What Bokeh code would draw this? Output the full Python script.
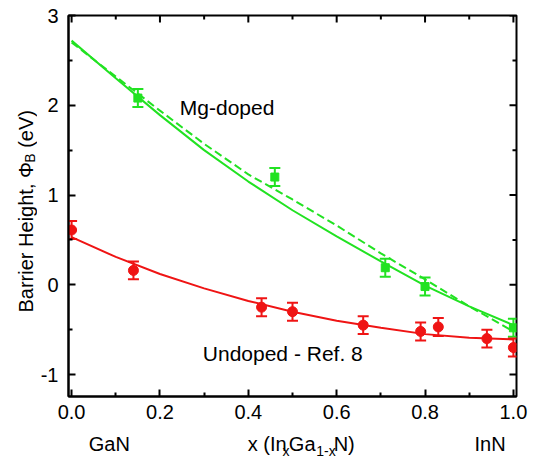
import math
from bokeh.plotting import figure
from bokeh.layouts import row, column
from bokeh.models import (Range1d, FixedTicker, NumeralTickFormatter,
                          Label, Whisker, TeeHead, ColumnDataSource)
from bokeh.embed import file_html
from bokeh.resources import INLINE

# ---- tick values / labels ----
x_ticks = [0.0, 0.2, 0.4, 0.6, 0.8, 1.0]
x_minor = [0.1, 0.3, 0.5, 0.7, 0.9]
y_ticks = [-1, 0, 1, 2, 3]
y_minor = [-0.5, 0.5, 1.5, 2.5]

# ---- data: Mg-doped (green squares) ----
mg_x = [0.15, 0.46, 0.71, 0.80, 1.00]
mg_y = [2.08, 1.20, 0.19, -0.02, -0.48]
mg_err = [0.10, 0.10, 0.10, 0.10, 0.10]

# ---- data: Undoped - Ref. 8 (red circles) ----
un_x = [0.00, 0.14, 0.43, 0.50, 0.66, 0.79, 0.83, 0.94, 1.00]
un_y = [0.61, 0.16, -0.25, -0.30, -0.45, -0.52, -0.47, -0.60, -0.70]
un_err = [0.10, 0.10, 0.10, 0.10, 0.10, 0.10, 0.10, 0.10, 0.10]

# ---- fitted curves ----
fit_x = [0.0, 0.1, 0.2, 0.3, 0.4, 0.5, 0.6, 0.7, 0.8, 0.9, 1.0]
mg_fit_solid = [2.72, 2.30, 1.89, 1.50, 1.15, 0.83, 0.54, 0.26, -0.01, -0.24, -0.45]
mg_fit_dashed = [2.70, 2.32, 1.94, 1.57, 1.23, 0.95, 0.66, 0.35, 0.06, -0.24, -0.52]
un_fit = [0.53, 0.31, 0.12, -0.04, -0.18, -0.30, -0.40, -0.48, -0.55, -0.59, -0.61]

GREEN = "#22e222"
RED = "#ef1414"
FONT = "Liberation Sans"
INK = "black"

X0, X1 = -0.007, 1.007
Y0, Y1 = -1.245, 3.0

LEFT_W = 37          # strip holding the rotated y title
MAIN_W, MAIN_H = 500, 430
BOT_H = 27           # strip holding the x title

p = figure(width=MAIN_W, height=MAIN_H, x_range=Range1d(X0, X1), y_range=Range1d(Y0, Y1),
           output_backend="svg", toolbar_location=None,
           min_border_left=30, min_border_top=15, min_border_right=21, min_border_bottom=34)
p.xgrid.visible = False
p.ygrid.visible = False
p.outline_line_color = INK
p.outline_line_width = 2


def style_axis(ax, ticks, minor, fmt, standoff):
    ax.ticker = FixedTicker(ticks=ticks, minor_ticks=minor)
    ax.formatter = NumeralTickFormatter(format=fmt)
    ax.axis_line_width = 2
    ax.axis_line_color = INK
    ax.major_tick_in = 7
    ax.major_tick_out = 0
    ax.minor_tick_in = 4
    ax.minor_tick_out = 0
    ax.major_tick_line_width = 2
    ax.minor_tick_line_width = 2
    ax.major_tick_line_color = INK
    ax.minor_tick_line_color = INK
    ax.major_label_text_font = FONT
    ax.major_label_text_font_size = "20px"
    ax.major_label_text_color = INK
    ax.major_label_standoff = standoff


style_axis(p.xaxis[0], x_ticks, x_minor, "0.0", 8)
style_axis(p.yaxis[0], y_ticks, y_minor, "0", 10)

# mirrored ticks on top and right edges (half of each dash is clipped by the frame)
p.scatter(x_ticks, [Y1] * len(x_ticks), marker="dash", size=14, angle=math.pi / 2,
          line_color=INK, line_width=2)
p.scatter(x_minor, [Y1] * len(x_minor), marker="dash", size=8, angle=math.pi / 2,
          line_color=INK, line_width=2)
p.scatter([X1] * len(y_ticks), y_ticks, marker="dash", size=14,
          line_color=INK, line_width=2)
p.scatter([X1] * len(y_minor), y_minor, marker="dash", size=8,
          line_color=INK, line_width=2)

# ---- fit curves ----
p.line(fit_x, mg_fit_solid, line_color=GREEN, line_width=2)
p.line(fit_x, mg_fit_dashed, line_color=GREEN, line_width=2, line_dash="8 4")
p.line(fit_x, un_fit, line_color=RED, line_width=2)

# ---- error bars ----
mg_src = ColumnDataSource(dict(x=mg_x, y=mg_y,
                               lo=[v - e for v, e in zip(mg_y, mg_err)],
                               hi=[v + e for v, e in zip(mg_y, mg_err)]))
un_src = ColumnDataSource(dict(x=un_x, y=un_y,
                               lo=[v - e for v, e in zip(un_y, un_err)],
                               hi=[v + e for v, e in zip(un_y, un_err)]))
for src, col in ((mg_src, GREEN), (un_src, RED)):
    w = Whisker(source=src, base="x", upper="hi", lower="lo", line_color=col, line_width=2,
                upper_head=TeeHead(size=11, line_color=col, line_width=2),
                lower_head=TeeHead(size=11, line_color=col, line_width=2))
    p.add_layout(w)

p.scatter("x", "y", source=mg_src, marker="square", size=8, fill_color=GREEN, line_color=GREEN)
p.scatter("x", "y", source=un_src, marker="circle", size=10, fill_color=RED, line_color=RED)

# ---- annotations inside the plot ----
p.add_layout(Label(x=0.245, y=1.97, text="Mg-doped", text_font=FONT, text_font_size="21px",
                   text_baseline="middle", text_align="left", text_color=INK))
p.add_layout(Label(x=0.297, y=-0.77, text="Undoped - Ref. 8", text_font=FONT, text_font_size="21px",
                   text_baseline="middle", text_align="left", text_color=INK))


def strip(w, h, xr, yr):
    s = figure(width=w, height=h, x_range=Range1d(*xr), y_range=Range1d(*yr),
               output_backend="svg", toolbar_location=None,
               x_axis_type=None, y_axis_type=None,
               min_border=0, min_border_left=0, min_border_right=0,
               min_border_top=0, min_border_bottom=0)
    s.xgrid.visible = False
    s.ygrid.visible = False
    s.outline_line_color = None
    return s


# ---- bottom strip: GaN, x (In_x Ga_{1-x} N), InN  (coords = page pixels) ----
bot = strip(MAIN_W, BOT_H, (LEFT_W, LEFT_W + MAIN_W), (MAIN_H + BOT_H, MAIN_H))
MID_Y = 443
bot.add_layout(Label(x=82.5, y=MID_Y, text="GaN", text_font=FONT, text_font_size="20px",
                     text_align="center", text_baseline="middle", text_color=INK))
bot.add_layout(Label(x=507.5, y=MID_Y, text="InN", text_font=FONT, text_font_size="20px",
                     text_align="center", text_baseline="middle", text_color=INK))
# (text, font px, downward shift, gap before in em of that font)
parts = [("x (In", 20, 0, 0.0), ("x", 14, 7, 0.0), ("Ga", 20, 0, 0.0),
         ("1-x", 14, 7, 0.278), ("N)", 20, 0, 0.0)]
widths = {"x (In": 1.945, "x": 0.5, "Ga": 1.334, "1-x": 1.389, "N)": 1.055}
xo = 237.0
for txt, fs, dy, gap in parts:
    xo += gap * fs
    bot.add_layout(Label(x=xo, y=MID_Y + dy, text=txt, text_font=FONT, text_color=INK,
                         text_font_size=f"{fs}px", text_align="left", text_baseline="middle"))
    xo += widths[txt] * fs

# ---- left strip: rotated y title  Barrier Height, Phi_B (eV) ----
left = strip(LEFT_W, MAIN_H + BOT_H, (0, LEFT_W), (MAIN_H + BOT_H, 0))
yparts = [("Barrier Height, \u03a6", 20, 0, 0.0), ("B", 14, 4, 0.0), ("(eV)", 20, 0, 0.278)]
ywidths = {"Barrier Height, \u03a6": 7.488, "B": 0.667, "(eV)": 1.889}
yo = 312.0
for txt, fs, dx, gap in yparts:
    yo -= gap * fs
    left.add_layout(Label(x=25 + dx, y=yo, text=txt, text_font=FONT, text_color=INK,
                          text_font_size=f"{fs}px", text_align="left", text_baseline="middle",
                          angle=math.pi / 2))
    yo -= ywidths[txt] * fs

layout = row(left, column(p, bot))
open("out.html", "w").write(file_html(layout, INLINE))
